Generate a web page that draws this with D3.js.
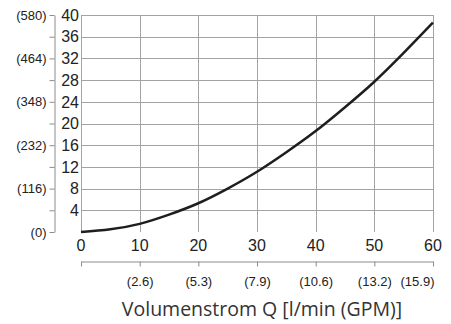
<!doctype html>
<html lang="de">
<head>
<meta charset="utf-8">
<title>Volumenstrom</title>
<script src="https://cdn.jsdelivr.net/npm/d3@7"></script>
<style>
	body { margin: 0; background: #fff; }
	svg { display: block; }
	.tick line { stroke: #8c8c8c; }
	.domain { stroke: #8c8c8c; }
</style>
</head>
<body>
<svg id="chart" width="451" height="324"></svg>
<script>
// flow in l/min and pressure in bar
var flow = [0, 5, 10, 15, 20, 25, 30, 35, 40, 45, 50, 55, 60];
var pressure = [0, 0.5, 1.5, 3.2, 5.3, 8.0, 11.1, 14.7, 18.6, 23.0, 27.7, 33.0, 38.6];

var barTicks = [0, 4, 8, 12, 16, 20, 24, 28, 32, 36, 40];
var psiLabels = ["(0)", "(116)", "(232)", "(348)", "(464)", "(580)"];
var flowTicks = [0, 10, 20, 30, 40, 50, 60];
var gpmLabels = ["", "(2.6)", "(5.3)", "(7.9)", "(10.6)", "(13.2)", "(15.9)"];

var svg = d3.select("#chart");
var mLeft = 81, mRight = 433, mTop = 15, mBottom = 232;

var x = d3.scaleLinear().domain([0, 60]).range([mLeft, mRight]);
var y = d3.scaleLinear().domain([0, 40]).range([mBottom, mTop]);

// grid
var grid = svg.append("g").attr("stroke", "#a3a3a3").attr("stroke-width", 1);
grid.selectAll("line.h").data(barTicks.filter(function(d) { return d > 0; }))
	.enter().append("line")
	.attr("x1", mLeft).attr("x2", mRight)
	.attr("y1", function(d) { return Math.round(y(d)) + 0.5; })
	.attr("y2", function(d) { return Math.round(y(d)) + 0.5; });
grid.selectAll("line.v").data(flowTicks)
	.enter().append("line")
	.attr("y1", mTop).attr("y2", mBottom)
	.attr("x1", function(d) { return Math.round(x(d)) + 0.5; })
	.attr("x2", function(d) { return Math.round(x(d)) + 0.5; });

// inner bar labels
svg.append("g").selectAll("text").data(barTicks.filter(function(d) { return d > 0; }))
	.enter().append("text")
	.attr("x", mLeft - 2)
	.attr("y", function(d) { return y(d); })
	.attr("dy", "0.36em")
	.attr("text-anchor", "end")
	.attr("font-family", "Liberation Sans, Arial, sans-serif")
	.attr("font-size", 16)
	.attr("fill", "#222")
	.text(function(d) { return d; });

// outer psi axis
var psiAxis = d3.axisLeft(y)
	.tickValues(barTicks)
	.tickSize(5)
	.tickSizeOuter(0)
	.tickPadding(3)
	.tickFormat(function(d, i) { return i % 2 == 0 ? psiLabels[i / 2] : ""; });
svg.append("g").attr("transform", "translate(54.5,0)").call(psiAxis)
	.call(function(g) {
		g.selectAll("text").attr("font-family", "Liberation Sans, Arial, sans-serif")
			.attr("font-size", 13).attr("fill", "#222");
	});

// bottom flow labels
svg.append("g").selectAll("text").data(flowTicks)
	.enter().append("text")
	.attr("x", function(d) { return x(d); })
	.attr("y", 250.5)
	.attr("text-anchor", "middle")
	.attr("font-family", "Liberation Sans, Arial, sans-serif")
	.attr("font-size", 16)
	.attr("fill", "#222")
	.text(function(d) { return d; });

// GPM axis
var gpmAxis = d3.axisBottom(x)
	.tickValues(flowTicks)
	.tickSize(5)
	.tickSizeOuter(0)
	.tickPadding(10)
	.tickFormat(function(d, i) { return gpmLabels[i]; });
svg.append("g").attr("transform", "translate(0,261.5)").call(gpmAxis)
	.call(function(g) {
		g.selectAll("text").attr("font-family", "Liberation Sans, Arial, sans-serif")
			.attr("font-size", 13).attr("fill", "#222");
		// last label sits flush with the right end
		g.selectAll(".tick:last-of-type text").attr("text-anchor", "end").attr("x", 1);
	});

// curve
var line = d3.line()
	.curve(d3.curveNatural)
	.x(function(d, i) { return x(flow[i]); })
	.y(function(d) { return y(d); });
svg.append("path")
	.attr("d", line(pressure))
	.attr("fill", "none")
	.attr("stroke", "#1e1e1e")
	.attr("stroke-width", 2.5);

// title
svg.append("text")
	.attr("x", 262)
	.attr("y", 316)
	.attr("text-anchor", "middle")
	.attr("font-family", "Open Sans, sans-serif")
	.attr("font-size", 19.5)
	.attr("fill", "#333")
	.text("Volumenstrom Q [l/min (GPM)]");
</script>
</body>
</html>
